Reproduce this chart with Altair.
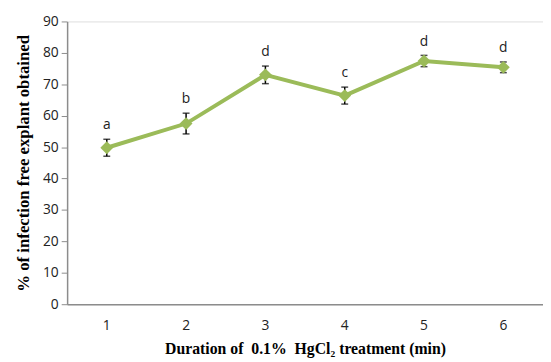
import altair as alt
import pandas as pd

durations = ["1", "2", "3", "4", "5", "6"]
means = [49.8, 57.5, 73.0, 66.4, 77.4, 75.4]
errors = [2.7, 3.3, 2.8, 2.7, 1.8, 1.7]
letters = ["a", "b", "d", "c", "d", "d"]

df = pd.DataFrame({
    "duration": durations,
    "mean": means,
    "err": errors,
    "letter": letters,
})
df["lo"] = df["mean"] - df["err"]
df["hi"] = df["mean"] + df["err"]

green = "#9BBB59"
axis_grey = "#8C8C8C"

x = alt.X(
    "duration:N",
    sort=durations,
    scale=alt.Scale(paddingInner=0, paddingOuter=0, domain=durations),
    axis=alt.Axis(
        title="Duration of \u00a00.1% \u00a0HgCl\u2082 treatment (min)",
        titleFont="Liberation Serif",
        titleFontWeight="bold",
        titleFontSize=16,
        titleColor="#000000",
        titlePadding=8,
        labelFont="Open Sans",
        labelFontSize=14,
        labelColor="#222222",
        labelAngle=0,
        labelPadding=15,
        ticks=False,
        domainColor=axis_grey,
        domainWidth=1.5,
        grid=False,
    ),
)

y_scale = alt.Scale(domain=[0, 90])
y_axis = alt.Axis(
    title="% of infection free explant obtained",
    titleFont="Liberation Serif",
    titleFontWeight="bold",
    titleFontSize=17,
    titleColor="#000000",
    titlePadding=10,
    values=list(range(0, 91, 10)),
    labelFont="Open Sans",
    labelFontSize=14,
    labelColor="#222222",
    labelPadding=3,
    labelOverlap=False,
    tickSize=6,
    tickColor=axis_grey,
    domainColor=axis_grey,
    domainWidth=1.5,
    grid=False,
)

base = alt.Chart(df)

line = base.mark_line(color=green, strokeWidth=4).encode(
    x=x,
    y=alt.Y("mean:Q", scale=y_scale, axis=y_axis),
)

errbars = base.mark_errorbar(ticks=alt.MarkConfig(size=7, color="#000000", strokeWidth=1.5), color="#000000", thickness=1.5).encode(
    x=x,
    y=alt.Y("lo:Q", scale=y_scale, axis=y_axis),
    y2="hi:Q",
)

points = base.mark_point(shape="diamond", filled=True, color=green, size=170, opacity=1).encode(
    x=x,
    y=alt.Y("mean:Q", scale=y_scale, axis=y_axis),
)

labels = base.mark_text(font="Open Sans", fontSize=14, color="#222222", baseline="bottom", dy=-7).encode(
    x=x,
    y=alt.Y("hi:Q", scale=y_scale, axis=y_axis),
    text="letter:N",
)

chart = alt.layer(line, errbars, points, labels).properties(
    width=483,
    height=287,
    autosize=alt.AutoSizeParams(type="none"),
    padding={"left": 60, "top": 11, "right": 0, "bottom": 56},
).configure_view(stroke=None).configure(background="#ffffff")

chart.save("out.html", embed_options={"renderer": "svg", "actions": False})
